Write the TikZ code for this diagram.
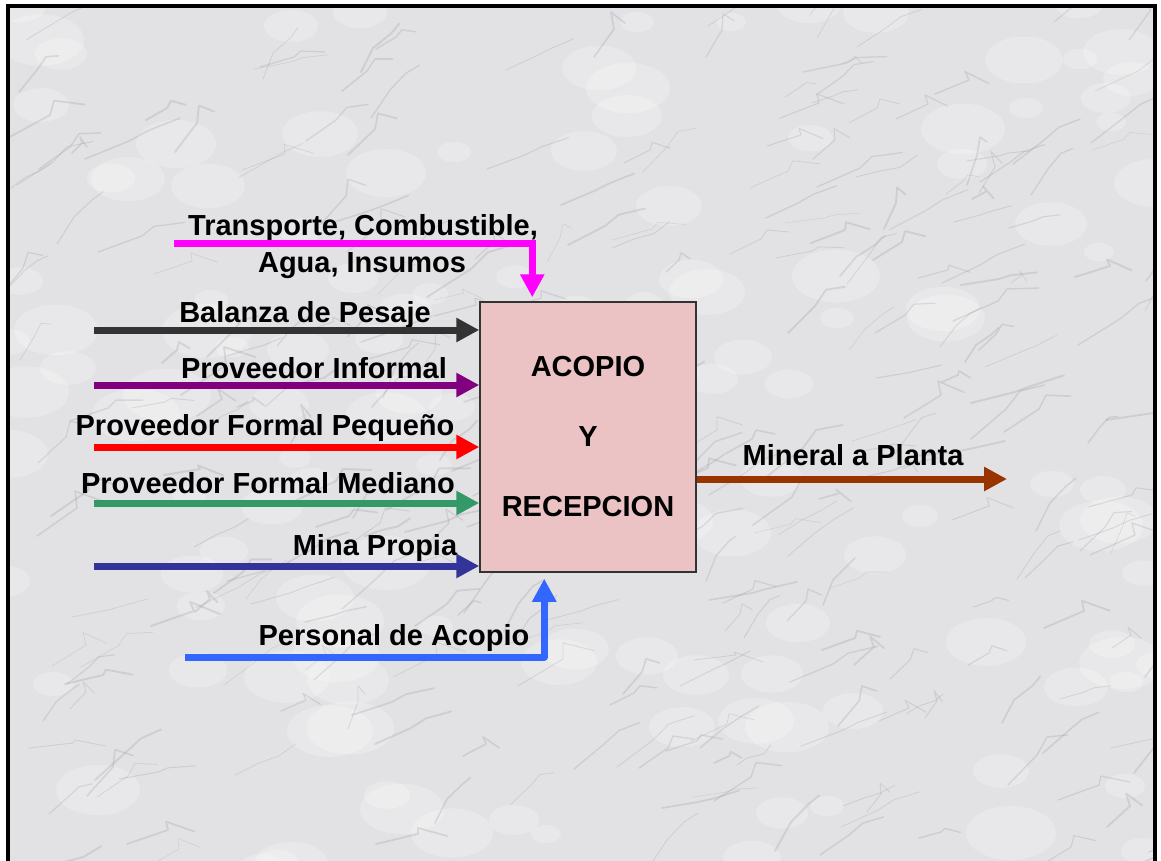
\documentclass[tikz,border=0pt]{standalone}
\usepackage{fontspec}
\setmainfont{Liberation Sans}
\usetikzlibrary{arrows.meta,calc}
\definecolor{marble}{HTML}{E2E2E5}
\definecolor{vein}{HTML}{8A8A92}
\definecolor{boxfill}{HTML}{EBC3C4}
\definecolor{cMag}{HTML}{FF00FF}
\definecolor{cBal}{HTML}{333333}
\definecolor{cInf}{HTML}{800080}
\definecolor{cPeq}{HTML}{FF0000}
\definecolor{cMed}{HTML}{339966}
\definecolor{cMina}{HTML}{333399}
\definecolor{cPers}{HTML}{3366FF}
\definecolor{cMin}{HTML}{993300}
\tikzset{
  lbl/.style={font=\fontsize{29}{33}\selectfont\bfseries, text height=21pt, text depth=0pt, inner sep=0pt},
  flow/.style={line width=7pt, -{Triangle[length=23pt,width=23pt]}},
  mainbox/.style={draw=cBal, line width=1.5pt, fill=boxfill, minimum width=216pt, minimum height=270pt, inner sep=0pt,
    align=center, font=\fontsize{29}{70}\selectfont\bfseries},
}
\begin{document}
\begin{tikzpicture}[x=1pt,y=-1pt]
\useasboundingbox (0,0) rectangle (1161,861);
\fill[white] (0,0) rectangle (1161,861);
\fill[marble] (8,6) rectangle (1155,861);
\begin{scope}
\clip (10,8) rectangle (1153,861);
\pgfmathsetseed{11}
\foreach \i in {1,...,140}{
  \pgfmathsetmacro\xa{random(0,1160)}
  \pgfmathsetmacro\ya{random(0,870)}
  \pgfmathsetmacro\r{random(15,45)}
  \fill[white, opacity=0.22] (\xa,\ya) ellipse ({\r} and {\r*0.6});
}
\foreach \i in {1,...,300}{
  \pgfmathsetmacro\xa{random(0,1160)}
  \pgfmathsetmacro\ya{random(0,870)}
  \pgfmathsetmacro\dx{random(10,45)}
  \pgfmathsetmacro\dy{random(5,30)}
  \pgfmathsetmacro\ex{random(-12,12)}
  \pgfmathsetmacro\lw{0.5+rnd*1.5}
  \draw[vein, opacity=0.22, line width=\lw pt, line cap=round, line join=round]
    (\xa,\ya) -- ++(\dx,-\dy) -- ++(\ex+8,-\dy*0.6) -- ++(\dx*0.7,-\ex);
}
\end{scope}
% frame
\fill[black] (6,4) rectangle (10,861);
\fill[black] (6,4) rectangle (1157,8);
\fill[black] (1153,4) rectangle (1157,861);

% main box
\node[mainbox] (box) at (588,437) {ACOPIO\\Y\\RECEPCION};

% labels
\node[lbl] (ltr1) at (363,225) {Transporte, Combustible,};
\node[lbl] (ltr2) at (362,262) {Agua, Insumos};
\node[lbl] (lbal) at (305,312) {Balanza de Pesaje};
\node[lbl] (linf) at (314,368) {Proveedor Informal};
\node[lbl] (lpeq) at (265,425) {Proveedor Formal Pequeño};
\node[lbl] (lmed) at (268,483) {Proveedor Formal Mediano};
\node[lbl] (lmina) at (375,545) {Mina Propia};
\node[lbl] (lmin) at (853,455) {Mineral a Planta};
\node[lbl] (lpers) at (394,635) {Personal de Acopio};

% start / end coordinates
\coordinate (sMag) at (174,243);
\coordinate (sBal) at (94,330);
\coordinate (sInf) at (94,385);
\coordinate (sPeq) at (94,447);
\coordinate (sMed) at (94,503);
\coordinate (sMina) at (94,566);
\coordinate (sPers) at (185,657);
\coordinate (eMin) at (1007,479);

% connectors
\draw[flow, cMag, shorten >=4pt] (sMag) -| ([xshift=53pt]box.north west);
\draw[flow, cBal] (sBal) -- (box.west |- sBal);
\draw[flow, cInf] (sInf) -- (box.west |- sInf);
\draw[flow, cPeq] (sPeq) -- (box.west |- sPeq);
\draw[flow, cMed] (sMed) -- (box.west |- sMed);
\draw[flow, cMina] (sMina) -- (box.west |- sMina);
\draw[flow, cPers, shorten >=6pt, line join=round] (sPers) -| ([xshift=65pt]box.south west);
\draw[flow, cMin] (box.east |- eMin) -- (eMin);
\end{tikzpicture}
\end{document}
